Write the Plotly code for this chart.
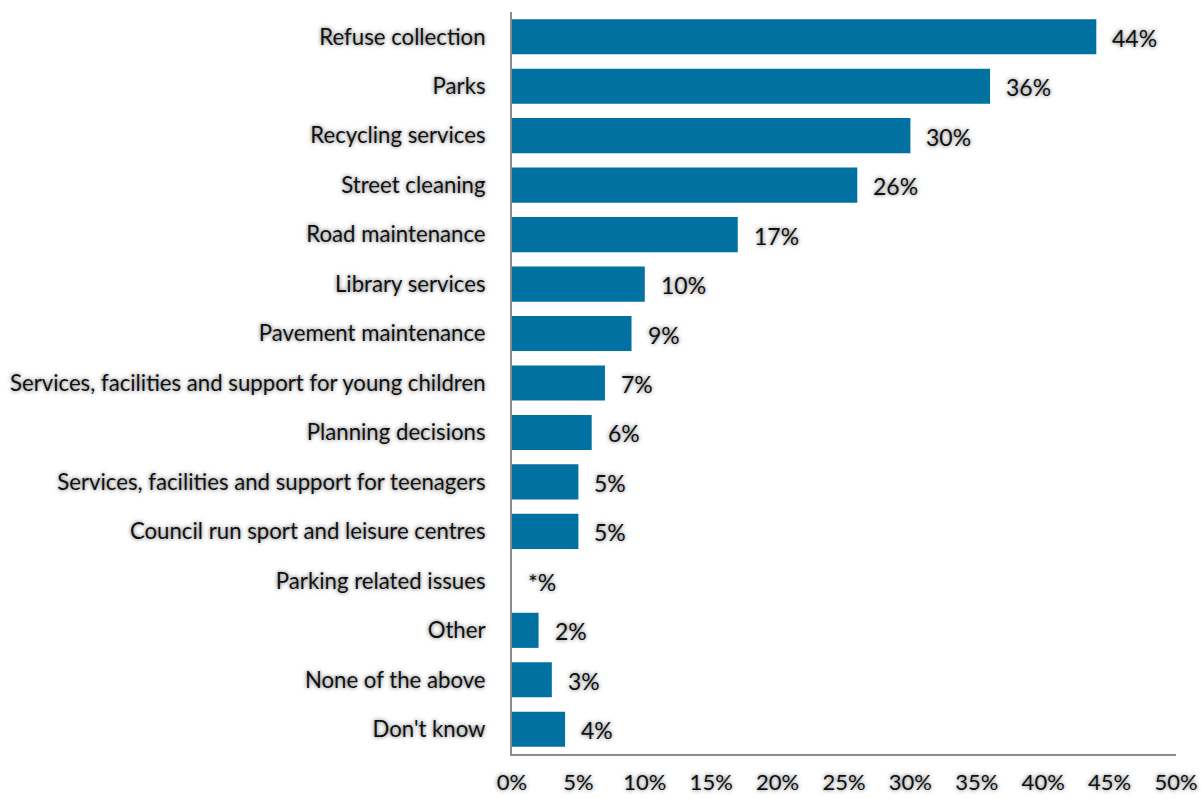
import plotly.graph_objects as go

# Share of respondents choosing each council service
categories = [
    "Refuse collection",
    "Parks",
    "Recycling services",
    "Street cleaning",
    "Road maintenance",
    "Library services",
    "Pavement maintenance",
    "Services, facilities and support for young children",
    "Planning decisions",
    "Services, facilities and support for teenagers",
    "Council run sport and leisure centres",
    "Parking related issues",
    "Other",
    "None of the above",
    "Don't know",
]
values = [44, 36, 30, 26, 17, 10, 9, 7, 6, 5, 5, 0, 2, 3, 4]
value_labels = ["44%", "36%", "30%", "26%", "17%", "10%", "9%", "7%", "6%",
                "5%", "5%", "*%", "2%", "3%", "4%"]
tick_values = [0, 5, 10, 15, 20, 25, 30, 35, 40, 45, 50]
tick_labels = [f"{t}%" for t in tick_values]

FONT = "Lato"
BAR_COLOR = "#0071A1"
GLOW = "0px 0px 4px rgba(0,0,0,0.6)"

fig = go.Figure()

fig.add_trace(go.Bar(
    y=categories,
    x=values,
    orientation="h",
    marker=dict(color=BAR_COLOR, line=dict(width=0)),
    hoverinfo="skip",
))

# value labels to the right of each bar
for cat, v, lab in zip(categories, values, value_labels):
    fig.add_annotation(
        x=v, y=cat, text=lab, showarrow=False,
        xanchor="left", yanchor="middle", xshift=14, yshift=-1,
        font=dict(family=FONT, size=23, color="#111111", shadow=GLOW),
    )

fig.update_layout(
    width=1201, height=798,
    margin=dict(l=512, r=25, t=12, b=44),
    paper_bgcolor="white", plot_bgcolor="white",
    showlegend=False,
    bargap=0.29,
    font=dict(family=FONT, size=22, color="#111111"),
)

fig.update_xaxes(
    range=[0, 50], automargin=False,
    tickvals=tick_values, ticktext=tick_labels,
    showgrid=False, zeroline=False,
    showline=True, linecolor="#8c8c8c", linewidth=2,
    ticks="", ticklabelstandoff=8,
    tickfont=dict(family=FONT, size=22, color="#111111", shadow=GLOW),
)
fig.update_yaxes(
    categoryorder="array", categoryarray=categories,
    autorange="reversed", automargin=False,
    showgrid=False, zeroline=False,
    showline=True, linecolor="#8c8c8c", linewidth=2,
    ticks="", ticklabelstandoff=20,
    tickfont=dict(family=FONT, size=22.2, color="#111111", shadow=GLOW),
)

fig.write_html("out.html")
